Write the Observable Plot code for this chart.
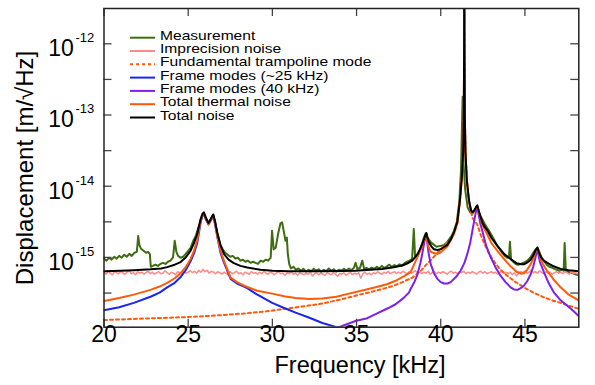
<!DOCTYPE html>
<html>
<head>
<meta charset="utf-8">
<script src="https://cdn.jsdelivr.net/npm/d3@7"></script>
<script src="https://cdn.jsdelivr.net/npm/@observablehq/plot@0.6"></script>
<style>
  html, body { margin: 0; padding: 0; background: #fff; }
  #chart { width: 595px; height: 385px; }
</style>
</head>
<body>
<div id="chart"></div>
<script>
// ---------------- data (frequency in kHz, displacement in m/sqrt(Hz)) ----------------
const xTickValues = [20, 25, 30, 35, 40, 45];
const yMajorTicks = [1e-15, 1e-14, 1e-13, 1e-12];
const yTickExponents = ["-15", "-14", "-13", "-12"];
const yMinorTicks = [3.16e-16, 3.16e-15, 3.16e-14, 3.16e-13];

const legendNames = [
  "Measurement",
  "Imprecision noise",
  "Fundamental trampoline mode",
  "Frame modes (~25 kHz)",
  "Frame modes (40 kHz)",
  "Total thermal noise",
  "Total noise"
];

const measurement = [
  [20.00,9.6e-16],[20.15,9.0e-16],[20.30,9.9e-16],[20.45,9.3e-16],[20.60,1.02e-15],[20.75,9.6e-16],
  [20.90,1.05e-15],[21.05,9.9e-16],[21.20,1.09e-15],[21.35,1.02e-15],[21.50,1.12e-15],[21.65,1.05e-15],
  [21.80,1.16e-15],[21.95,1.2e-15],[22.03,2.0e-15],[22.10,1.5e-15],[22.20,1.32e-15],[22.35,1.24e-15],
  [22.50,1.16e-15],[22.62,1.2e-15],[22.72,1.12e-15],[22.78,7.4e-16],[22.90,7.6e-16],[23.05,7.9e-16],
  [23.20,7.6e-16],[23.35,8.1e-16],[23.50,8.4e-16],[23.65,8.1e-16],[23.80,8.7e-16],[23.95,9.0e-16],
  [24.10,1.0e-15],[24.20,1.71e-15],[24.30,1.2e-15],[24.40,1.05e-15],[24.55,9.9e-16],[24.70,1.02e-15],
  [24.85,1.12e-15],[25.00,1.24e-15],[25.15,1.37e-15],[25.30,1.71e-15],[25.45,2.0e-15],[25.60,2.6e-15],
  [25.75,3.3e-15],[25.87,4.0e-15],[25.93,4.2e-15],[26.05,3.6e-15],[26.20,2.95e-15],[26.35,3.5e-15],
  [26.48,4.0e-15],[26.60,3.1e-15],[26.75,2.1e-15],[26.90,1.5e-15],[27.05,1.3e-15],[27.20,1.16e-15],
  [27.35,1.09e-15],[27.50,1.02e-15],[27.65,1.05e-15],[27.80,9.6e-16],[27.95,9.9e-16],[28.10,9.0e-16],
  [28.25,9.3e-16],[28.40,8.7e-16],[28.55,9.0e-16],[28.70,8.4e-16],[28.85,8.7e-16],[29.00,8.4e-16],
  [29.15,8.1e-16],[29.30,9.0e-16],[29.45,8.7e-16],[29.60,9.3e-16],[29.75,9.0e-16],[29.90,9.9e-16],
  [29.98,2.37e-15],[30.08,1.3e-15],[30.20,1.37e-15],[30.35,2.2e-15],[30.48,3.0e-15],[30.58,3.1e-15],
  [30.68,2.3e-15],[30.78,1.71e-15],[30.86,1.9e-15],[30.92,1.1e-15],[31.00,8.1e-16],[31.10,7.0e-16],
  [31.25,7.4e-16],[31.40,6.7e-16],[31.55,7.0e-16],[31.70,6.5e-16],[31.85,6.9e-16],[32.00,6.3e-16],
  [32.15,6.7e-16],[32.30,6.4e-16],[32.45,6.9e-16],[32.60,6.5e-16],[32.75,6.8e-16],[32.90,6.3e-16],
  [33.05,6.7e-16],[33.20,6.4e-16],[33.35,7.0e-16],[33.50,6.5e-16],[33.65,6.8e-16],[33.80,6.3e-16],
  [33.95,6.7e-16],[34.10,6.5e-16],[34.25,6.9e-16],[34.40,6.6e-16],[34.55,7.0e-16],[34.70,6.6e-16],
  [34.85,7.2e-16],[34.94,8.4e-16],[35.05,6.9e-16],[35.20,7.1e-16],[35.34,9.0e-16],[35.45,6.9e-16],
  [35.60,7.1e-16],[35.75,6.8e-16],[35.90,7.2e-16],[36.05,6.9e-16],[36.20,7.4e-16],[36.35,7.0e-16],
  [36.50,7.6e-16],[36.65,7.1e-16],[36.80,7.5e-16],[36.95,7.9e-16],[37.10,7.3e-16],[37.25,7.8e-16],
  [37.40,7.5e-16],[37.55,8.0e-16],[37.70,7.7e-16],[37.85,8.3e-16],[38.00,8.7e-16],[38.15,9.0e-16],
  [38.30,9.6e-16],[38.40,2.5e-15],[38.48,1.0e-15],[38.60,1.05e-15],[38.72,1.2e-15],[38.85,1.46e-15],
  [38.97,1.8e-15],[39.07,2.1e-15],[39.14,2.2e-15],[39.22,1.9e-15],[39.32,1.75e-15],[39.45,1.6e-15],
  [39.60,1.5e-15],[39.75,1.41e-15],[39.90,1.44e-15],[40.05,1.46e-15],[40.20,1.5e-15],[40.35,1.6e-15],
  [40.50,1.8e-15],[40.65,2.0e-15],[40.80,2.4e-15],[40.95,3.1e-15],[41.10,6.0e-15],[41.20,1.6e-14],
  [41.30,1.8e-13],[41.36,2.0e-14],[41.45,9.0e-15],[41.60,5.0e-15],[41.75,4.3e-15],[41.88,4.1e-15],
  [42.00,4.5e-15],[42.10,4.9e-15],[42.17,5.2e-15],[42.30,4.1e-15],[42.45,3.5e-15],[42.60,3.0e-15],
  [42.75,2.6e-15],[42.90,2.3e-15],[43.05,2.0e-15],[43.20,1.71e-15],[43.35,1.46e-15],[43.50,1.3e-15],
  [43.65,1.16e-15],[43.80,1.05e-15],[43.95,9.9e-16],[44.05,1.0e-15],[44.11,1.66e-15],[44.18,9.3e-16],
  [44.30,8.7e-16],[44.45,8.1e-16],[44.60,7.9e-16],[44.75,8.1e-16],[44.90,8.4e-16],[45.05,8.7e-16],
  [45.20,9.3e-16],[45.35,1.02e-15],[45.50,1.16e-15],[45.62,1.28e-15],[45.74,1.37e-15],[45.85,1.2e-15],
  [46.00,9.9e-16],[46.15,8.7e-16],[46.30,7.9e-16],[46.45,7.4e-16],[46.60,7.2e-16],[46.75,6.9e-16],
  [46.90,6.7e-16],[47.05,6.5e-16],[47.20,6.7e-16],[47.30,6.5e-16],[47.36,1.6e-15],[47.43,6.5e-16],
  [47.55,6.3e-16],[47.70,6.1e-16],[47.85,6.0e-16],[48.00,5.8e-16],[48.20,5.6e-16]
];

// imprecision noise, sampled every 0.125 kHz starting at 20 kHz
const imprecisionStart = 20, imprecisionStep = 0.125;
const imprecisionValues = [
  6.2e-16,5.8e-16,6.4e-16,6.0e-16,5.7e-16,6.3e-16,6.1e-16,5.9e-16,
  6.4e-16,6.0e-16,5.8e-16,6.2e-16,6.5e-16,5.9e-16,6.1e-16,5.7e-16,
  6.3e-16,6.0e-16,6.2e-16,5.8e-16,6.1e-16,6.4e-16,5.9e-16,6.2e-16,
  5.8e-16,6.1e-16,6.3e-16,5.9e-16,6.0e-16,6.5e-16,6.1e-16,5.8e-16,
  6.2e-16,6.0e-16,5.7e-16,6.3e-16,6.1e-16,5.9e-16,6.4e-16,6.0e-16,
  6.2e-16,6.5e-16,6.1e-16,6.4e-16,6.0e-16,6.6e-16,6.2e-16,6.8e-16,
  6.3e-16,6.6e-16,6.0e-16,6.4e-16,6.2e-16,5.9e-16,6.3e-16,6.1e-16,
  5.8e-16,6.2e-16,6.0e-16,5.7e-16,6.3e-16,5.9e-16,6.1e-16,6.4e-16,
  5.9e-16,6.1e-16,5.7e-16,6.2e-16,6.0e-16,5.8e-16,6.3e-16,6.0e-16,
  6.1e-16,5.8e-16,6.2e-16,5.9e-16,6.4e-16,6.0e-16,5.8e-16,6.2e-16,
  6.0e-16,5.7e-16,6.1e-16,6.3e-16,5.9e-16,6.0e-16,5.6e-16,6.1e-16,
  5.9e-16,6.2e-16,5.8e-16,6.0e-16,5.6e-16,6.1e-16,5.9e-16,5.7e-16,
  6.0e-16,5.8e-16,6.2e-16,5.5e-16,5.9e-16,6.1e-16,5.7e-16,6.0e-16,
  5.8e-16,5.6e-16,6.1e-16,5.9e-16,5.7e-16,6.2e-16,5.8e-16,5.4e-16,
  6.0e-16,5.8e-16,6.1e-16,5.6e-16,5.9e-16,6.2e-16,5.7e-16,6.0e-16,
  5.8e-16,6.1e-16,5.1e-16,5.9e-16,6.2e-16,5.8e-16,6.0e-16,5.7e-16,
  6.1e-16,5.9e-16,6.3e-16,6.0e-16,5.8e-16,6.2e-16,6.0e-16,6.4e-16,
  5.9e-16,6.1e-16,6.3e-16,5.9e-16,6.2e-16,6.0e-16,6.4e-16,6.1e-16,
  5.9e-16,6.3e-16,6.0e-16,6.2e-16,6.5e-16,6.0e-16,6.3e-16,5.9e-16,
  6.2e-16,6.0e-16,6.4e-16,5.8e-16,6.1e-16,6.3e-16,5.9e-16,6.2e-16,
  6.0e-16,6.3e-16,6.1e-16,5.8e-16,6.2e-16,6.4e-16,6.0e-16,6.2e-16,
  5.9e-16,6.3e-16,6.1e-16,6.4e-16,5.9e-16,6.2e-16,6.0e-16,6.3e-16,
  6.1e-16,5.8e-16,6.2e-16,6.4e-16,6.0e-16,6.3e-16,5.9e-16,6.1e-16,
  6.3e-16,6.0e-16,6.2e-16,5.8e-16,6.1e-16,6.4e-16,6.0e-16,6.2e-16,
  5.9e-16,6.2e-16,5.7e-16,6.1e-16,5.5e-16,6.0e-16,6.3e-16,6.1e-16,
  6.4e-16,6.0e-16,6.2e-16,6.6e-16,6.1e-16,6.3e-16,6.0e-16,6.5e-16,
  6.1e-16,5.9e-16,6.3e-16,6.0e-16,6.2e-16,5.8e-16,6.1e-16,6.3e-16,
  6.0e-16,6.2e-16,5.9e-16,6.3e-16,6.1e-16,5.8e-16,6.2e-16,6.0e-16,
  6.1e-16,5.9e-16,6.0e-16
];

const fundamental = [
  [20.0,1.32e-16],[21.5,1.36e-16],[23.0,1.4e-16],[24.5,1.44e-16],[25.7,1.48e-16],[27.0,1.55e-16],
  [28.3,1.63e-16],[29.66,1.75e-16],[31.0,1.93e-16],[32.0,2.08e-16],[32.97,2.25e-16],[34.0,2.55e-16],
  [34.94,2.9e-16],[35.8,3.25e-16],[36.53,3.6e-16],[37.2,4.0e-16],[37.72,4.5e-16],[38.31,5.2e-16],
  [38.8,6.4e-16],[39.07,7.6e-16],[39.5,9.6e-16],[39.86,1.2e-15],[40.2,1.45e-15],[40.59,1.75e-15],
  [40.8,2.2e-15],[40.99,3.0e-15],[41.14,6.2e-15],[41.25,1.3e-14],[41.33,3.0e-14],[41.37,1.0e-13],
  [41.39,1.0e-12],[41.40,1.0e-11],[41.41,1.0e-12],[41.43,1.0e-13],[41.47,3.0e-14],[41.55,1.2e-14],
  [41.68,5.8e-15],[41.88,3.6e-15],[42.17,2.9e-15],[42.4,2.0e-15],[42.57,1.6e-15],[42.85,1.15e-15],
  [43.16,8.8e-16],[43.5,6.9e-16],[43.96,5.5e-16],[44.45,4.5e-16],[44.94,3.8e-16],[45.5,3.2e-16],
  [46.13,2.75e-16],[46.6,2.5e-16],[47.12,2.3e-16],[47.6,2.1e-16],[48.19,1.9e-16]
];

const frame25 = [
  [20.0,1.81e-16],[20.9,2.0e-16],[21.77,2.3e-16],[22.76,2.8e-16],[23.3,3.2e-16],[23.75,3.8e-16],
  [24.2,4.4e-16],[24.55,5.3e-16],[24.85,6.6e-16],[25.14,8.8e-16],[25.35,1.15e-15],[25.54,1.6e-15],
  [25.73,3.0e-15],[25.85,3.9e-15],[25.93,4.1e-15],[26.05,3.4e-15],[26.21,2.9e-15],[26.38,3.4e-15],
  [26.49,3.85e-15],[26.6,2.9e-15],[26.73,1.95e-15],[26.92,1.16e-15],[27.12,8.5e-16],[27.52,5.0e-16],
  [27.9,4.3e-16],[28.51,3.7e-16],[29.0,3.1e-16],[29.99,2.3e-16],[30.7,1.95e-16],[31.38,1.68e-16],
  [32.2,1.42e-16],[32.97,1.2e-16],[33.86,1.04e-16],[34.5,9.3e-17]
];

const frame40 = [
  [33.5,9.0e-17],[33.95,1.05e-16],[34.94,1.28e-16],[35.64,1.4e-16],[36.13,1.6e-16],[36.8,1.9e-16],
  [37.32,2.2e-16],[37.8,2.7e-16],[38.11,3.2e-16],[38.21,3.6e-16],[38.45,4.6e-16],[38.61,5.7e-16],
  [38.8,8.5e-16],[38.91,1.15e-15],[39.02,1.6e-15],[39.1,2.0e-15],[39.14,2.15e-15],[39.2,1.6e-15],
  [39.28,1.15e-15],[39.4,8.1e-16],[39.6,6.0e-16],[39.8,5.0e-16],[40.0,4.5e-16],[40.19,4.3e-16],
  [40.4,4.3e-16],[40.59,4.5e-16],[40.9,5.3e-16],[41.18,6.5e-16],[41.4,8.3e-16],[41.58,1.12e-15],
  [41.75,1.6e-15],[41.88,2.37e-15],[42.0,3.4e-15],[42.1,4.5e-15],[42.17,5.0e-15],[42.25,4.0e-15],
  [42.35,3.0e-15],[42.47,2.37e-15],[42.7,1.45e-15],[42.97,1.0e-15],[43.25,7.3e-16],[43.56,5.5e-16],
  [43.85,4.5e-16],[44.15,3.8e-16],[44.35,3.55e-16],[44.55,3.5e-16],[44.75,3.7e-16],[44.94,4.0e-16],
  [45.15,4.7e-16],[45.34,5.8e-16],[45.5,7.5e-16],[45.62,9.8e-16],[45.7,1.2e-15],[45.74,1.3e-15],
  [45.8,1.1e-15],[45.9,8.5e-16],[46.13,6.2e-16],[46.4,4.4e-16],[46.73,3.2e-16],[47.12,2.5e-16],
  [47.52,2.1e-16],[47.9,1.75e-16],[48.19,1.5e-16]
];

const thermal = [
  [20.0,2.45e-16],[20.9,2.7e-16],[21.77,3.0e-16],[22.76,3.5e-16],[23.3,3.9e-16],[23.75,4.4e-16],
  [24.2,5.1e-16],[24.55,6.0e-16],[24.85,7.3e-16],[25.14,9.5e-16],[25.35,1.25e-15],[25.54,1.75e-15],
  [25.73,3.2e-15],[25.85,4.0e-15],[25.93,4.2e-15],[26.05,3.5e-15],[26.21,2.95e-15],[26.38,3.5e-15],
  [26.49,3.9e-15],[26.6,3.0e-15],[26.73,2.0e-15],[26.92,1.24e-15],[27.12,9.0e-16],[27.52,5.2e-16],
  [27.9,4.5e-16],[28.32,4.0e-16],[29.1,3.4e-16],[29.99,3.1e-16],[30.7,2.85e-16],[31.38,2.7e-16],
  [32.2,2.6e-16],[32.97,2.65e-16],[33.8,2.8e-16],[34.55,3.1e-16],[35.4,3.45e-16],[36.13,3.8e-16],
  [36.8,4.2e-16],[37.32,4.7e-16],[37.8,5.4e-16],[38.21,6.2e-16],[38.61,1.0e-15],[38.85,1.35e-15],
  [39.0,1.75e-15],[39.08,1.95e-15],[39.14,2.1e-15],[39.22,1.6e-15],[39.3,1.35e-15],[39.4,1.2e-15],
  [39.6,1.15e-15],[39.8,1.12e-15],[40.0,1.18e-15],[40.2,1.3e-15],[40.39,1.42e-15],[40.6,1.75e-15],
  [40.8,2.2e-15],[40.99,3.1e-15],[41.14,6.3e-15],[41.25,1.3e-14],[41.33,3.0e-14],[41.37,1.0e-13],
  [41.39,1.0e-12],[41.40,1.0e-11],[41.41,1.0e-12],[41.43,1.0e-13],[41.47,3.0e-14],[41.55,1.2e-14],
  [41.68,6.2e-15],[41.8,4.5e-15],[41.88,4.2e-15],[42.0,4.5e-15],[42.1,5.0e-15],[42.17,5.3e-15],
  [42.25,4.4e-15],[42.35,3.6e-15],[42.47,2.9e-15],[42.6,2.5e-15],[42.77,2.1e-15],[43.0,1.6e-15],
  [43.36,1.24e-15],[43.76,9.5e-16],[44.15,7.5e-16],[44.5,6.3e-16],[44.8,5.9e-16],[44.94,6.0e-16],
  [45.15,6.8e-16],[45.34,8.0e-16],[45.5,9.8e-16],[45.65,1.22e-15],[45.74,1.32e-15],[45.82,1.15e-15],
  [45.95,9.2e-16],[46.13,7.6e-16],[46.33,6.4e-16],[46.7,4.9e-16],[47.12,3.8e-16],[47.6,3.0e-16],
  [48.19,2.5e-16]
];

const totalNoise = [
  [20.0,6.4e-16],[21.0,6.5e-16],[21.77,6.6e-16],[22.76,6.8e-16],[23.4,7.0e-16],[23.75,7.3e-16],
  [24.2,7.9e-16],[24.55,8.6e-16],[24.85,1.0e-15],[25.14,1.24e-15],[25.35,1.6e-15],[25.54,2.15e-15],
  [25.73,3.4e-15],[25.85,4.1e-15],[25.93,4.3e-15],[26.05,3.6e-15],[26.21,3.05e-15],[26.38,3.6e-15],
  [26.49,4.0e-15],[26.6,3.2e-15],[26.73,2.2e-15],[26.92,1.5e-15],[27.12,1.12e-15],[27.4,9.3e-16],
  [27.71,8.3e-16],[28.1,7.6e-16],[28.51,7.2e-16],[29.3,6.7e-16],[30.0,6.5e-16],[31.0,6.4e-16],
  [32.0,6.4e-16],[33.0,6.4e-16],[34.0,6.45e-16],[34.94,6.5e-16],[35.8,6.7e-16],[36.53,6.9e-16],
  [37.2,7.3e-16],[37.72,7.7e-16],[38.0,8.2e-16],[38.31,9.0e-16],[38.61,1.1e-15],[38.8,1.35e-15],
  [38.95,1.65e-15],[39.05,1.95e-15],[39.14,2.2e-15],[39.22,1.85e-15],[39.32,1.6e-15],[39.45,1.42e-15],
  [39.6,1.3e-15],[39.8,1.27e-15],[40.0,1.3e-15],[40.2,1.4e-15],[40.39,1.5e-15],[40.6,1.8e-15],
  [40.8,2.3e-15],[40.99,3.2e-15],[41.14,6.3e-15],[41.25,1.3e-14],[41.33,3.0e-14],[41.37,1.0e-13],
  [41.39,1.0e-12],[41.40,1.0e-11],[41.41,1.0e-12],[41.43,1.0e-13],[41.47,3.0e-14],[41.55,1.2e-14],
  [41.68,6.3e-15],[41.8,4.6e-15],[41.88,4.3e-15],[42.0,4.6e-15],[42.1,5.1e-15],[42.17,5.4e-15],
  [42.25,4.6e-15],[42.35,3.8e-15],[42.47,3.1e-15],[42.6,2.7e-15],[42.77,2.4e-15],[43.0,1.9e-15],
  [43.36,1.46e-15],[43.76,1.12e-15],[44.15,9.5e-16],[44.5,8.3e-16],[44.8,8.0e-16],[44.94,8.0e-16],
  [45.15,8.5e-16],[45.34,9.3e-16],[45.5,1.07e-15],[45.65,1.28e-15],[45.74,1.37e-15],[45.82,1.2e-15],
  [45.95,1.0e-15],[46.13,9.0e-16],[46.33,8.4e-16],[46.7,7.5e-16],[47.12,6.9e-16],[47.6,6.6e-16],
  [48.19,6.4e-16]
];

// imprecision table built from its sampling grid
const imprecision = imprecisionValues.map((v, i) => [imprecisionStart + i * imprecisionStep, v]);

// ---------------- styles ----------------
const seriesStyle = [
  {data: measurement, stroke: "#3e6c10", width: 2, dash: null},
  {data: imprecision, stroke: "#ff8a8a", width: 1.5, dash: null},
  {data: fundamental, stroke: "#ff5a0a", width: 2, dash: "3,3"},
  {data: frame25,     stroke: "#1a24f5", width: 2, dash: null},
  {data: frame40,     stroke: "#7d1fee", width: 2, dash: null},
  {data: thermal,     stroke: "#ff5a0a", width: 2, dash: null},
  {data: totalNoise,  stroke: "#000000", width: 2, dash: null}
];

const W = 595, H = 385;
const mL = 103.5, mR = 16.7, mT = 8, mB = 58.3;
const innerW = W - mL - mR, innerH = H - mT - mB;
const tickLen = 8;
const font = "'Liberation Sans', Arial, Helvetica, sans-serif";
const tickColor = "#444";

const lineMarks = seriesStyle.map(s => Plot.line(s.data, {
  x: d => d[0], y: d => d[1], stroke: s.stroke, strokeWidth: s.width,
  strokeDasharray: s.dash, clip: true, strokeLinejoin: "round"
}));

const yAllTicks = yMajorTicks.concat(yMinorTicks);

const chart = Plot.plot({
  width: W, height: H,
  marginLeft: mL, marginRight: mR, marginTop: mT, marginBottom: mB,
  x: {domain: [20, 48.2], axis: null},
  y: {type: "log", domain: [1.047e-16, 3.13e-12], axis: null},
  style: {fontFamily: font, background: "#fff", color: "#000"},
  marks: [
    ...lineMarks,
    Plot.tickX(xTickValues, {x: d => d, insetTop: innerH - tickLen, stroke: tickColor, strokeWidth: 1.3}),
    Plot.tickX(xTickValues, {x: d => d, insetBottom: innerH - tickLen, stroke: tickColor, strokeWidth: 1.3}),
    Plot.tickY(yAllTicks, {y: d => d, insetRight: innerW - tickLen, stroke: tickColor, strokeWidth: 1.3}),
    Plot.tickY(yAllTicks, {y: d => d, insetLeft: innerW - tickLen, stroke: tickColor, strokeWidth: 1.3}),
    Plot.frame({stroke: "#222", strokeWidth: 1.5}),
    Plot.text(xTickValues, {x: d => d, text: d => String(d), frameAnchor: "bottom", dy: 15, fontSize: 23, fill: "#000"}),
    Plot.text(yMajorTicks, {y: d => d, text: d => "10", frameAnchor: "left", dx: -30.2, dy: 5, textAnchor: "end", fontSize: 23, fill: "#000"}),
    Plot.text(yMajorTicks, {y: d => d, text: (d, i) => yTickExponents[i], frameAnchor: "left", dx: -28.5, dy: -5.8, textAnchor: "start", fontSize: 13, fill: "#000"})
  ]
});

document.getElementById("chart").appendChild(chart);

// axis titles and in-plot legend
const svg = d3.select(chart);
svg.append("text")
  .attr("x", 360).attr("y", 373)
  .attr("text-anchor", "middle")
  .attr("font-family", font).attr("font-size", 23.5).attr("fill", "#000")
  .text("Frequency [kHz]");
svg.append("text")
  .attr("transform", "translate(33,168) rotate(-90)")
  .attr("text-anchor", "middle")
  .attr("font-family", font).attr("font-size", 24).attr("fill", "#000")
  .text("Displacement [m/\u221AHz]");

const lg = svg.append("g").attr("text-anchor", "start");
legendNames.forEach((name, i) => {
  const y = 37.7 + i * 13.3;
  const s = seriesStyle[i];
  lg.append("line")
    .attr("x1", 130).attr("x2", 155).attr("y1", y).attr("y2", y)
    .attr("stroke", s.stroke).attr("stroke-width", 2)
    .attr("stroke-dasharray", s.dash);
  lg.append("text")
    .attr("transform", `translate(160,${y + 2}) scale(1.2,1)`)
    .attr("text-anchor", "start")
    .attr("font-family", font).attr("font-size", 13).attr("fill", "#000")
    .text(name);
});
</script>
</body>
</html>
